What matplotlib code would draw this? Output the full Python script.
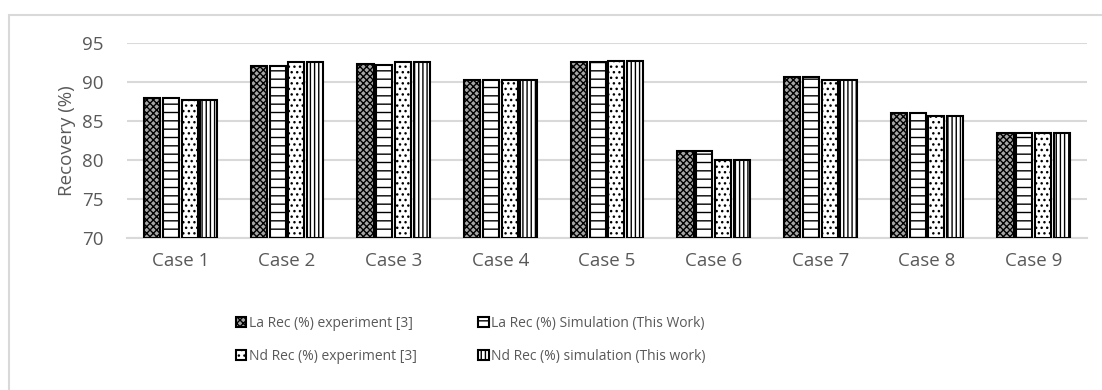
import matplotlib.pyplot as plt
import numpy as np
from matplotlib.patches import Rectangle

plt.rcParams['font.family'] = ['Open Sans', 'DejaVu Sans']
plt.rcParams['hatch.linewidth'] = 1.0

cases = ['Case 1', 'Case 2', 'Case 3', 'Case 4', 'Case 5',
         'Case 6', 'Case 7', 'Case 8', 'Case 9']
la_exp = [88.0, 92.0, 92.3, 90.2, 92.5, 81.2, 90.7, 86.0, 83.5]
la_sim = [88.0, 92.0, 92.2, 90.2, 92.5, 81.2, 90.7, 86.0, 83.5]
nd_exp = [87.7, 92.5, 92.5, 90.2, 92.7, 80.0, 90.2, 85.7, 83.5]
nd_sim = [87.7, 92.5, 92.5, 90.2, 92.7, 80.0, 90.2, 85.7, 83.5]
labels = ['La Rec (%) experiment [3]', 'La Rec (%) Simulation (This Work)',
          'Nd Rec (%) experiment [3]', 'Nd Rec (%) simulation (This work)']

series = [la_exp, la_sim, nd_exp, nd_sim]
faces = ['#a6a6a6', 'white', 'white', 'white']
hatches = ['xxxxx', '--', '...', '||||']

fig = plt.figure(figsize=(11.02, 3.9), dpi=100)
ax = fig.add_axes([127 / 1102, 1 - 238 / 390, (1087 - 127) / 1102, (238 - 43) / 390])

# outer chart border (only top and left are visible in the crop)
fig.patches.append(Rectangle((9 / 1102, -0.1), 1.2, 1 - 15 / 390 + 0.1,
                             transform=fig.transFigure, fill=False,
                             edgecolor='#d9d9d9', lw=1.5))

x = np.arange(len(cases))
slot = 0.176
w = 0.152
handles = []
for i, vals in enumerate(series):
    b = ax.bar(x + (i - 1.5) * slot, np.array(vals) - 70, w, bottom=70,
               facecolor=faces[i], edgecolor='black', hatch=hatches[i],
               linewidth=1.5, label=labels[i], zorder=3)
    handles.append(b)

ax.set_xlim(-0.5, len(cases) - 0.5)
ax.set_ylim(70, 95)
ax.set_yticks(range(70, 96, 5))
ax.set_xticks(x)
ax.set_xticklabels(cases)
ax.yaxis.grid(True, color='#d9d9d9', lw=1.5, zorder=0)
for s in ['top', 'right', 'left']:
    ax.spines[s].set_visible(False)
ax.spines['bottom'].set_color('#d9d9d9')
ax.spines['bottom'].set_linewidth(1.5)
ax.tick_params(axis='both', length=0, labelsize=13.5, colors='#595959')
ax.tick_params(axis='y', pad=17)
ax.tick_params(axis='x', pad=10)
ax.set_ylabel('Recovery (%)', fontsize=13.5, color='#595959', labelpad=4)

# legend fills column-wise, so order handles to read row-wise like the original
order = [0, 2, 1, 3]
fig.legend(handles=[handles[k] for k in order], labels=[labels[k] for k in order],
           loc='center', ncol=2, bbox_to_anchor=(471 / 1102, 1 - 340 / 390),
           frameon=False, fontsize=10, handlelength=0.75, handleheight=0.75,
           handletextpad=0.2, columnspacing=4.4, labelspacing=1.3,
           labelcolor='#595959')

fig.savefig('out.png', dpi=100)
